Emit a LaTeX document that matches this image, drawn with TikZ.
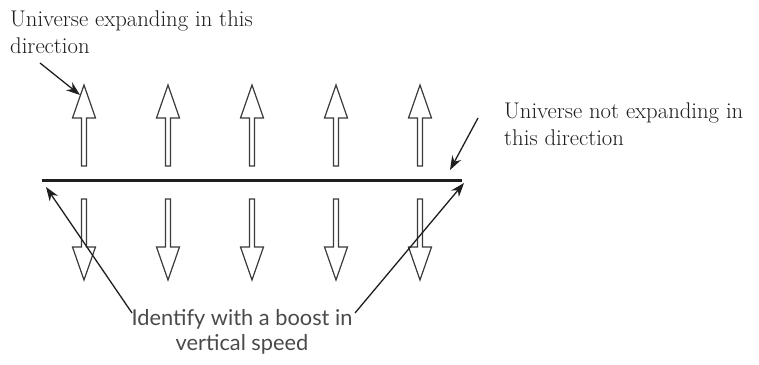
\documentclass[tikz,border=0pt]{standalone}
\usepackage{fontspec}
\newfontfamily\labelsans{Lato}
\usetikzlibrary{arrows.meta}
\definecolor{ink}{HTML}{1E1E1E}
\definecolor{outl}{HTML}{3A3A3A}
\definecolor{sanscol}{HTML}{4A4A4A}
\tikzset{
  serifnote/.style={font=\fontsize{22.7}{27}\selectfont, text=ink, inner sep=0pt, align=left},
  sansnote/.style={font=\labelsans\fontsize{21.8}{25}\selectfont, text=sanscol, inner sep=0pt, align=center},
  blockarrow/.style={draw=outl, line width=1.2pt, fill=white, line join=miter},
  pointer/.style={draw=ink, line width=1.3pt, -{Stealth[length=14pt,width=10pt]}},
  sheet/.style={draw=ink, line width=3pt}
}
\newcommand{\uparr}[1]{%
  \path[blockarrow] (#1,85) -- (#1+11.5,118) -- (#1+2.5,118) -- (#1+2.5,166)
    -- (#1-2.5,166) -- (#1-2.5,118) -- (#1-11.5,118) -- cycle;}
\newcommand{\downarr}[1]{%
  \path[blockarrow] (#1,280) -- (#1+11.5,247) -- (#1+2.5,247) -- (#1+2.5,199)
    -- (#1-2.5,199) -- (#1-2.5,247) -- (#1-11.5,247) -- cycle;}
\begin{document}
\begin{tikzpicture}[x=1pt,y=-1pt]
\useasboundingbox (0,0) rectangle (759,364);
% block arrows
\foreach \cx in {84,168,252,336,420} {\uparr{\cx}\downarr{\cx}}
% the sheet
\coordinate (sheetL) at (42,180);
\coordinate (sheetR) at (462,180);
\draw[sheet] (sheetL) -- (sheetR);
% labels (base anchor = baseline of the last line)
\node[serifnote, anchor=base west] (expand) at (10,53) {Universe expanding in this\\direction};
\node[serifnote, anchor=base west] (notexpand) at (504,145) {Universe not expanding in\\this direction};
\node[sansnote, anchor=base] (boost) at (242,350) {Identify with a boost in\\vertical speed};
% pointer coordinates
\coordinate (p1s) at (40,63);
\coordinate (p1e) at (80,95);
\coordinate (p2s) at (478,118);
\coordinate (p2e) at (450,170);
\coordinate (p3s) at (132,313);
\coordinate (p3e) at (46,187);
\coordinate (p4s) at (355,313);
\coordinate (p4e) at (464,183);
\draw[pointer] (p1s) -- (p1e);
\draw[pointer] (p2s) -- (p2e);
\draw[pointer] (p3s) -- (p3e);
\draw[pointer] (p4s) -- (p4e);
\end{tikzpicture}
\end{document}
